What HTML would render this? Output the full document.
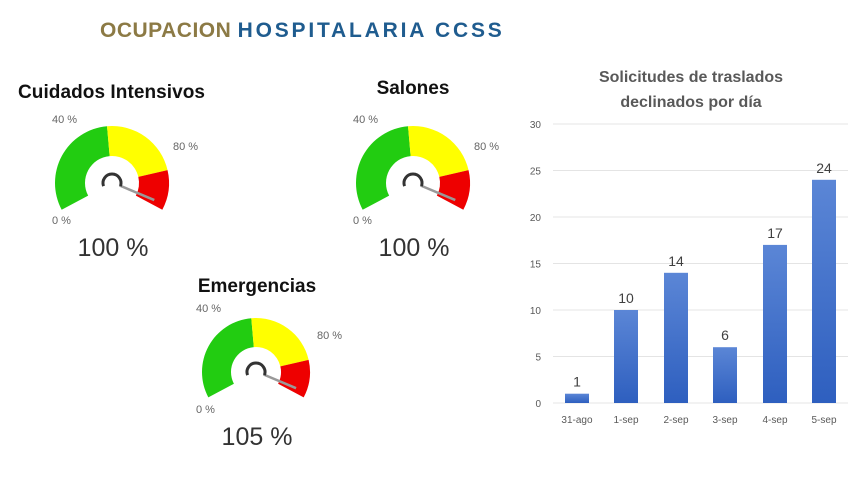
<!DOCTYPE html>
<html><head><meta charset="utf-8">
<style>
html,body{margin:0;padding:0;background:#fff;}
svg{display:block;font-family:"Liberation Sans",sans-serif;}
</style></head>
<body>
<svg id="s" width="865" height="487" viewBox="0 0 865 487" xmlns="http://www.w3.org/2000/svg">
<text x="100" y="37" font-size="21" font-weight="bold" letter-spacing="0.5" fill="#8C7A45">OCUPACION <tspan fill="#1F5C8F" letter-spacing="2.8">HOSPITALARIA CCSS</tspan></text>
<text x="18" y="98" font-size="19" font-weight="bold" fill="#111" textLength="187">Cuidados Intensivos</text>
<text x="413" y="94" font-size="19" font-weight="bold" fill="#111" text-anchor="middle">Salones</text>
<text x="257" y="292" font-size="19" font-weight="bold" fill="#111" text-anchor="middle">Emergencias</text>
<g id="gauges"></g>
<text x="691" y="82" font-size="16" font-weight="bold" fill="#595959" text-anchor="middle">Solicitudes de traslados</text>
<text x="691" y="107" font-size="16" font-weight="bold" fill="#595959" text-anchor="middle">declinados por día</text>
<defs><linearGradient id="bg" x1="0" y1="0" x2="0" y2="1"><stop offset="0" stop-color="#5B86D6"/><stop offset="1" stop-color="#2E5FBF"/></linearGradient></defs>
<g id="chart"></g>
</svg>
<script>
var NS="http://www.w3.org/2000/svg";
function el(p,t,a,txt){var e=document.createElementNS(NS,t);for(var k in a)e.setAttribute(k,a[k]);if(txt!=null)e.textContent=txt;p.appendChild(e);return e;}
function pt(cx,cy,r,a){a=a*Math.PI/180;return [cx+r*Math.cos(a),cy-r*Math.sin(a)];}
function seg(cx,cy,R,r,a1,a2){var p1=pt(cx,cy,R,a1),p2=pt(cx,cy,R,a2),p3=pt(cx,cy,r,a2),p4=pt(cx,cy,r,a1);var l=(a1-a2)>180?1:0;
return "M"+p1+" A"+R+","+R+" 0 "+l+" 1 "+p2+" L"+p3+" A"+r+","+r+" 0 "+l+" 0 "+p4+"Z";}
var G=document.getElementById("gauges");
function gauge(cx,cy,R,r,val){
 el(G,"path",{d:seg(cx,cy,R,r,208,95),fill:"#22CC11"});
 el(G,"path",{d:seg(cx,cy,R,r,95,13),fill:"#FFFF00"});
 el(G,"path",{d:seg(cx,cy,R,r,13,-28),fill:"#EE0000"});
 var a=pt(cx,cy,8,-18),b=pt(cx,cy,R*0.8,-22);
 el(G,"line",{x1:a[0],y1:a[1],x2:b[0],y2:b[1],stroke:"#999",'stroke-width':2.5});
 var s=pt(cx,cy,9,200),e=pt(cx,cy,9,-20);
 el(G,"path",{d:"M"+s+" A9,9 0 1 1 "+e,fill:"none",stroke:"#333",'stroke-width':3});
 el(G,"text",{x:cx-60,y:cy+41,'font-size':11,fill:"#666"},"0 %");
 el(G,"text",{x:cx-60,y:cy-60,'font-size':11,fill:"#666"},"40 %");
 el(G,"text",{x:cx+61,y:cy-33,'font-size':11,fill:"#666"},"80 %");
 el(G,"text",{x:cx+1,y:cy+73,'font-size':25,fill:"#333",'text-anchor':"middle"},val);
}
gauge(112,183,57,27,"100 %");
gauge(413,183,57,27,"100 %");
gauge(256,372,54,25,"105 %");
var C=document.getElementById("chart");
var y0=403,k=9.3;
for(var i=0;i<=6;i++){var y=y0-i*5*k;el(C,"line",{x1:553,x2:848,y1:y,y2:y,stroke:"#e4e4e4",'stroke-width':1});
 el(C,"text",{x:541,y:y+4,'font-size':10,fill:"#595959",'text-anchor':"end"},i*5);}
var xs=[577,626,676,725,775,824],v=[1,10,14,6,17,24],lb=["31-ago","1-sep","2-sep","3-sep","4-sep","5-sep"];
for(var i=0;i<6;i++){var h=v[i]*k;el(C,"rect",{x:xs[i]-12,y:y0-h,width:24,height:h,fill:"url(#bg)"});
 el(C,"text",{x:xs[i],y:y0-h-7,'font-size':14,fill:"#404040",'text-anchor':"middle"},v[i]);
 el(C,"text",{x:xs[i],y:y0+20,'font-size':10,fill:"#595959",'text-anchor':"middle"},lb[i]);}
</script>
</body></html>
